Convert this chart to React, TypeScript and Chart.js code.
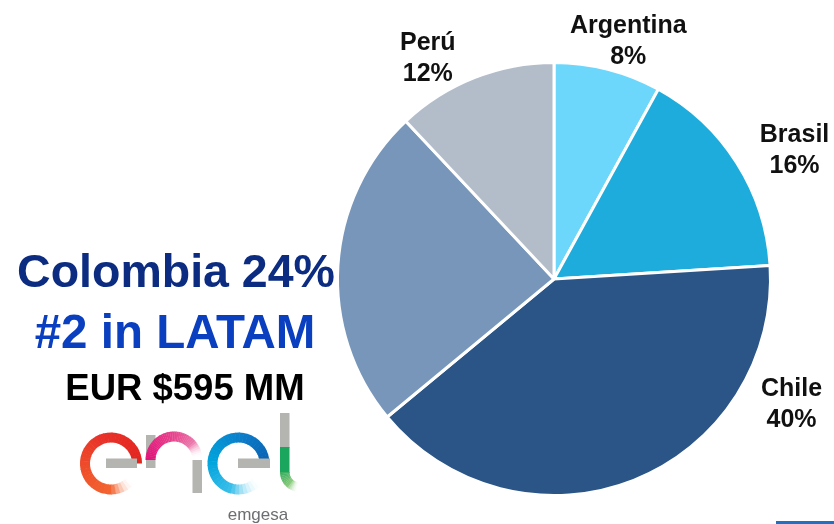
import React, { useEffect, useRef } from "react";
import { Chart, registerables } from "chart.js";

Chart.register(...registerables);

const categories = ["Argentina", "Brasil", "Chile", "Colombia", "Perú"];
const shares = [8, 16, 40, 24, 12];
const sliceColors = ["#6dd7fb", "#1eacdc", "#2a5586", "#7896b9", "#b3bdca"];
// label anchor relative to pie centre, in units of the radius (null = no label)
const labelAnchors: (number[] | null)[] = [
  [0.343, -1.106],
  [1.111, -0.602],
  [1.097, 0.572],
  null,
  [-0.583, -1.028],
];

const FONT = '"Liberation Sans", Arial, Helvetica, sans-serif';

const sliceLabelPlugin = {
  id: "sliceLabels",
  afterDatasetsDraw(chart: any) {
    const meta = chart.getDatasetMeta(0);
    const arc: any = meta.data[0];
    if (!arc) return;
    const { x, y, outerRadius } = arc;
    const ctx = chart.ctx;
    ctx.save();
    ctx.font = `bold 25px ${FONT}`;
    ctx.fillStyle = "#111111";
    ctx.textAlign = "center";
    ctx.textBaseline = "alphabetic";
    labelAnchors.forEach((a, i) => {
      if (!a) return;
      const cx = x + a[0] * outerRadius;
      const cy = y + a[1] * outerRadius;
      ctx.fillText(categories[i], cx, cy - 15.5 + 9);
      ctx.fillText(`${shares[i]}%`, cx, cy + 15.5 + 9);
    });
    ctx.restore();
  },
};

type Stop = [number, string, number];

function hexToRgb(h: string) {
  const n = parseInt(h.slice(1), 16);
  return [(n >> 16) & 255, (n >> 8) & 255, n & 255];
}

function sample(stops: Stop[], t: number) {
  for (let i = 0; i < stops.length - 1; i++) {
    const [t0, c0, o0] = stops[i];
    const [t1, c1, o1] = stops[i + 1];
    if (t >= t0 && t <= t1) {
      const f = (t - t0) / (t1 - t0 || 1);
      const a = hexToRgb(c0);
      const b = hexToRgb(c1);
      const c = a.map((v, k) => Math.round(v + (b[k] - v) * f));
      return { color: `rgb(${c[0]},${c[1]},${c[2]})`, opacity: o0 + (o1 - o0) * f };
    }
  }
  const l = stops[stops.length - 1];
  return { color: l[1], opacity: l[2] };
}

function ArcSegs(props: { cx: number; cy: number; r: number; a0: number; a1: number; w: number; stops: Stop[]; n?: number }) {
  const { cx, cy, r, a0, a1, w, stops } = props;
  const n = props.n ?? 40;
  const out: any[] = [];
  for (let i = 0; i < n; i++) {
    const t0 = i / n;
    const t1 = Math.min(1, (i + 1.15) / n);
    const s = ((a0 + (a1 - a0) * t0) * Math.PI) / 180;
    const e = ((a0 + (a1 - a0) * t1) * Math.PI) / 180;
    const { color, opacity } = sample(stops, (i + 0.5) / n);
    const x0 = cx + r * Math.cos(s);
    const y0 = cy + r * Math.sin(s);
    const x1 = cx + r * Math.cos(e);
    const y1 = cy + r * Math.sin(e);
    const sweep = a1 > a0 ? 1 : 0;
    out.push(
      <path
        key={i}
        d={`M ${x0} ${y0} A ${r} ${r} 0 0 ${sweep} ${x1} ${y1}`}
        stroke={color}
        strokeOpacity={opacity}
        strokeWidth={w}
        fill="none"
      />
    );
  }
  return <g>{out}</g>;
}

function Logo() {
  const gray = "#b4b4b0";
  return (
    <g>
      {/* first e */}
      <ArcSegs
        cx={111}
        cy={463.5}
        r={26}
        a0={0}
        a1={-318}
        w={10}
        stops={[
          [0, "#e3241f", 1],
          [0.35, "#e8322a", 1],
          [0.65, "#f0542b", 1],
          [0.85, "#f26430", 1],
          [1, "#ffffff", 0],
        ]}
      />
      <rect x={106} y={458.5} width={31} height={9.5} fill={gray} />
      {/* n */}
      <rect x={146} y={435} width={9.5} height={33} fill={gray} />
      <ArcSegs
        cx={174}
        cy={460}
        r={23.5}
        a0={-180}
        a1={-8}
        w={10}
        stops={[
          [0, "#e2137a", 1],
          [0.5, "#e6428c", 1],
          [0.8, "#eb78ab", 1],
          [1, "#ffffff", 0],
        ]}
      />
      <rect x={192.5} y={460} width={9.5} height={33} fill={gray} />
      {/* second e */}
      <ArcSegs
        cx={238.5}
        cy={463.5}
        r={26}
        a0={0}
        a1={-318}
        w={10}
        stops={[
          [0, "#0a62b2", 1],
          [0.25, "#0c7bc8", 1],
          [0.55, "#00a4dc", 1],
          [0.8, "#3cbfea", 1],
          [1, "#ffffff", 0],
        ]}
      />
      <rect x={238} y={458.5} width={32} height={9.5} fill={gray} />
      {/* l */}
      <rect x={280} y={413} width={9.5} height={35} fill={gray} />
      <rect x={280} y={447} width={9.5} height={26} fill="#1aa65c" />
      <ArcSegs
        cx={300}
        cy={472}
        r={15.25}
        a0={180}
        a1={100}
        w={9.5}
        n={14}
        stops={[
          [0, "#3aae62", 1],
          [0.6, "#86c978", 1],
          [1, "#ffffff", 0.2],
        ]}
      />
      <text x={258} y={520} textAnchor="middle" fontFamily={FONT} fontSize={17} fill="#6d6e71">
        emgesa
      </text>
    </g>
  );
}

export default function App() {
  const ref = useRef<HTMLCanvasElement>(null);
  useEffect(() => {
    if (!ref.current) return;
    const chart = new Chart(ref.current, {
      type: "pie",
      data: {
        labels: categories,
        datasets: [
          {
            data: shares,
            backgroundColor: sliceColors,
            borderColor: "#ffffff",
            borderWidth: 3,
          },
        ],
      },
      options: {
        responsive: false,
        animation: false,
        devicePixelRatio: 1,
        layout: { padding: { left: 336, right: 62, top: 61, bottom: 27 } },
        plugins: {
          legend: { display: false },
          tooltip: { enabled: false },
        },
      },
      plugins: [sliceLabelPlugin],
    });
    return () => chart.destroy();
  }, []);

  return (
    <div style={{ position: "fixed", left: 0, top: 0, width: 834, height: 524, background: "#ffffff", overflow: "hidden" }}>
      <canvas ref={ref} width={834} height={524} style={{ position: "absolute", left: 0, top: 0 }} />
      <svg width={834} height={524} style={{ position: "absolute", left: 0, top: 0, pointerEvents: "none" }}>
        <text x={176} y={287} textAnchor="middle" fontFamily={FONT} fontWeight="bold" fontSize={46.5} fill="#0b2c80">
          Colombia 24%
        </text>
        <text x={175} y={348} textAnchor="middle" fontFamily={FONT} fontWeight="bold" fontSize={47.5} fill="#0a3fbf">
          #2 in LATAM
        </text>
        <text x={185} y={400} textAnchor="middle" fontFamily={FONT} fontWeight="bold" fontSize={36.5} fill="#000000">
          EUR $595 MM
        </text>
        <Logo />
      </svg>
      <div style={{ position: "absolute", left: 776, top: 521, width: 58, height: 3, background: "#1f6fc5" }} />
    </div>
  );
}
